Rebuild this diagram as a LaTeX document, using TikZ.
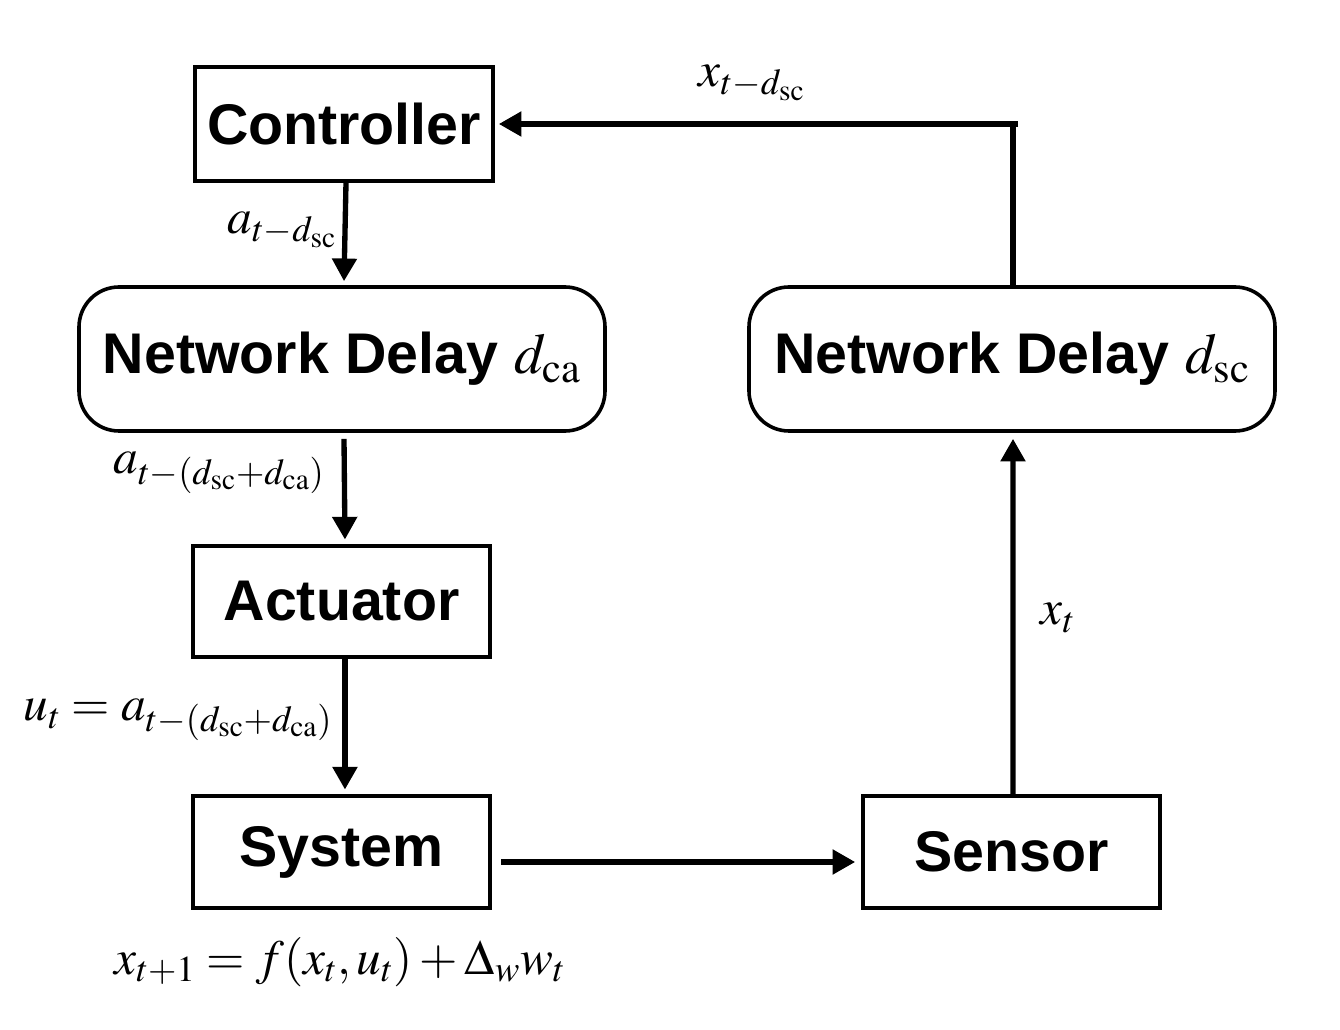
\documentclass[tikz,border=0pt]{standalone}
\usepackage{mathptmx}
\usepackage{fontspec}
\setmainfont{Liberation Serif}
\newfontfamily\boxfont{Liberation Sans}
\usetikzlibrary{arrows.meta,calc}
\begin{document}
\begin{tikzpicture}[x=0.75pt,y=-0.75pt,
  blk/.style={draw,line width=2.7pt,inner sep=0pt,font=\boxfont\bfseries\fontsize{43}{50}\selectfont},
  rblk/.style={blk,rounded corners=30pt},
  conn/.style={line width=4pt,-{Triangle[length=17pt,width=18pt]}},
  lbl/.style={inner sep=0pt,font=\fontsize{37}{42}\selectfont}]
\useasboundingbox (0,0) rectangle (1340,1030);
\node[blk,minimum width=223.5pt,minimum height=85.5pt] (ctrl) at (344,124) {Controller};
\node[rblk,minimum width=394.5pt,minimum height=108pt] (ndca) at (342,359) {Network Delay $d_{\mathrm{ca}}$};
\node[blk,minimum width=222.75pt,minimum height=83.25pt] (act) at (341.5,601.5) {Actuator};
\node[blk,minimum width=222.75pt,minimum height=84pt] (sys) at (341.5,852) {System};
\node[blk,minimum width=222.75pt,minimum height=84pt] (sen) at (1011.5,852) {Sensor};
\node[rblk,minimum width=394.5pt,minimum height=108pt] (ndsc) at (1012,359) {Network Delay $d_{\mathrm{sc}}$};
\coordinate (corner) at (1013,124);
\draw[conn] ([xshift=1.5pt]ctrl.south) -- ([xshift=1.5pt,yshift=3pt]ndca.north);
\draw[conn] ([xshift=1.5pt,yshift=-4.5pt]ndca.south) -- ([xshift=2.6pt,yshift=3.5pt]act.north);
\draw[conn] ([xshift=2.6pt]act.south) -- ([xshift=2.6pt,yshift=3.5pt]sys.north);
\draw[conn] ([xshift=7pt,yshift=-7.5pt]sys.east) -- ([xshift=-4.5pt,yshift=-7.5pt]sen.west);
\draw[conn] ([xshift=1.1pt]sen.north) -- ([xshift=0.75pt,yshift=-4.5pt]ndsc.south);
\draw[line width=4pt] ([xshift=0.75pt]ndsc.north) -- (corner);
\draw[conn] ([xshift=3.75pt]corner) -- ([xshift=3pt]ctrl.east);
\node[lbl] (l1) at (282,230) {$a_{t-d_{\mathrm{sc}}}$};
\node[lbl] (l2) at (219,473) {$a_{t-(d_{\mathrm{sc}}+d_{\mathrm{ca}})}$};
\node[lbl] (l3) at (178,720) {$u_t=a_{t-(d_{\mathrm{sc}}+d_{\mathrm{ca}})}$};
\node[lbl] (l4) at (340,962) {$x_{t+1}=f(x_t,u_t)+\Delta_w w_t$};
\node[lbl] (l5) at (752,83) {$x_{t-d_{\mathrm{sc}}}$};
\node[lbl] (l6) at (1058,618) {$x_t$};
\end{tikzpicture}
\end{document}
